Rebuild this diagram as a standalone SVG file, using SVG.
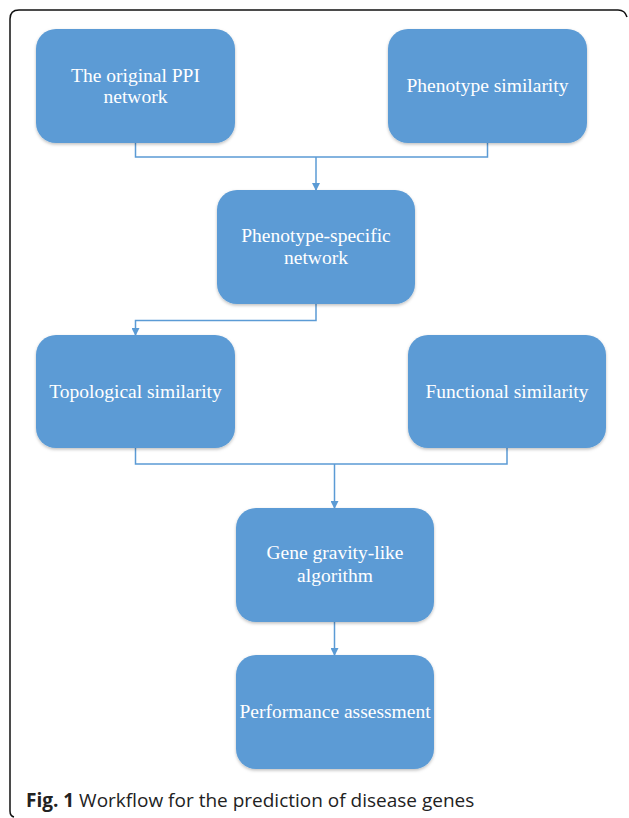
<svg xmlns="http://www.w3.org/2000/svg" width="629" height="818" viewBox="0 0 629 818">
<style>
.box{fill:#5B9BD5;filter:url(#sh)}
.lbl{font-family:"Liberation Serif","Times New Roman",serif;font-size:19.5px;fill:#ffffff;text-anchor:middle}
.conn{fill:none;stroke:#5B9BD5;stroke-width:1.5}
.cap{font-family:"Open Sans","Noto Sans",sans-serif;font-size:19px;fill:#222222}
</style>
<defs>
<filter id="sh" x="-10%" y="-10%" width="120%" height="125%">
<feDropShadow dx="0" dy="1.5" stdDeviation="1.5" flood-color="#000" flood-opacity="0.25"/>
</filter>
<marker id="ar" markerWidth="8" markerHeight="8" refX="7" refY="4" orient="auto" markerUnits="userSpaceOnUse">
<path d="M0,0 L8,4 L0,8 Z" fill="#5B9BD5"/>
</marker>
</defs>
<rect width="629" height="818" fill="#ffffff"/>
<path d="M627,17 Q625,10 618,10 L19,10 Q10,10 10,19 L10,811 Q10,816 14,817" fill="none" stroke="#111" stroke-width="1.5"/>
<g id="connectors">
<path class="conn" d="M135.5,143 V157 H487.5 V143"/>
<path class="conn" d="M316,157 V190" marker-end="url(#ar)"/>
<path class="conn" d="M316,304 V320.5 H135.5 V335" marker-end="url(#ar)"/>
<path class="conn" d="M135.5,448 V464 H507 V448"/>
<path class="conn" d="M334.5,464 V508" marker-end="url(#ar)"/>
<path class="conn" d="M334.5,622 V655" marker-end="url(#ar)"/>
</g>
<g id="n1"><rect class="box" x="36" y="29" width="199" height="114" rx="20"/><text class="lbl" x="135.5" y="81.5">The original PPI</text><text class="lbl" x="135.5" y="103">network</text></g>
<g id="n2"><rect class="box" x="388" y="29" width="199" height="114" rx="20"/><text class="lbl" x="487.5" y="92">Phenotype similarity</text></g>
<g id="n3"><rect class="box" x="217" y="190" width="198" height="114" rx="20"/><text class="lbl" x="316" y="242">Phenotype-specific</text><text class="lbl" x="316" y="263.5">network</text></g>
<g id="n4"><rect class="box" x="36" y="335" width="199" height="113" rx="20"/><text class="lbl" x="135.5" y="398">Topological similarity</text></g>
<g id="n5"><rect class="box" x="408" y="335" width="198" height="113" rx="20"/><text class="lbl" x="507" y="398">Functional similarity</text></g>
<g id="n6"><rect class="box" x="236" y="508" width="198" height="114" rx="20"/><text class="lbl" x="335" y="559">Gene gravity-like</text><text class="lbl" x="335" y="581.5">algorithm</text></g>
<g id="n7"><rect class="box" x="236" y="655" width="198" height="114" rx="20"/><text class="lbl" x="335" y="718">Performance assessment</text></g>
<text class="cap" x="26" y="807"><tspan font-weight="bold">Fig. 1</tspan> Workflow for the prediction of disease genes</text>
</svg>
